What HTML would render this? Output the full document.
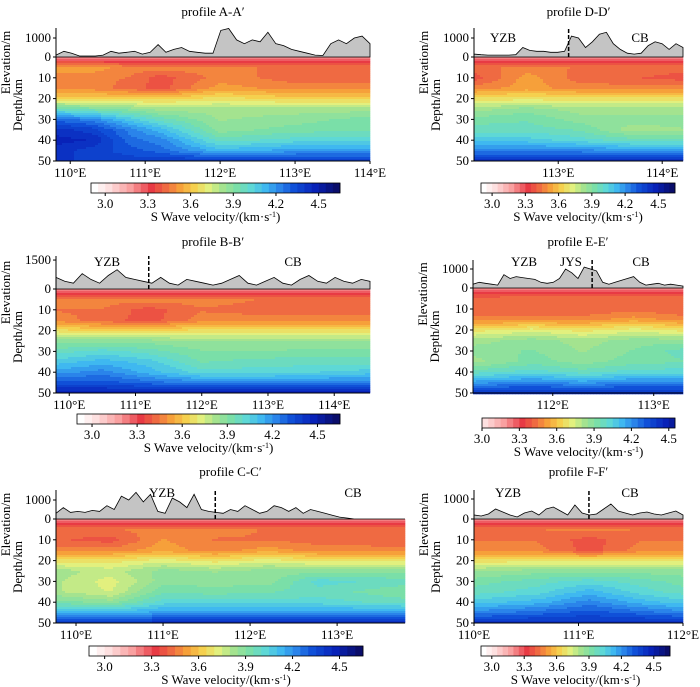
<!DOCTYPE html>
<html><head><meta charset="utf-8"><style>
html,body{margin:0;padding:0;background:#fff}
svg{display:block;font-family:"Liberation Serif",serif}
</style></head><body>
<svg id="fig" width="700" height="687" viewBox="0 0 700 687"></svg>
<script>
// ---- data ----
const depths = [0,2,5,10,15,20,25,30,35,40,45,50];
const aLons = [109.8,110.3,110.8,111.2,112,113,114];
const aVel = [
 [3.15,3.3,3.5,3.45,3.45,3.6,3.95,4.25,4.4,4.45,4.4,4.4],
 [3.15,3.3,3.5,3.45,3.45,3.6,3.9,4.2,4.35,4.42,4.35,4.35],
 [3.15,3.3,3.45,3.42,3.4,3.6,3.85,4.05,4.2,4.25,4.3,4.35],
 [3.15,3.3,3.45,3.35,3.35,3.6,3.8,3.95,4.1,4.2,4.25,4.38],
 [3.15,3.3,3.45,3.45,3.5,3.65,3.8,3.82,3.85,3.95,4.1,4.38],
 [3.15,3.3,3.4,3.4,3.45,3.6,3.8,3.85,3.9,4.0,4.15,4.38],
 [3.15,3.3,3.4,3.4,3.45,3.6,3.8,3.9,3.92,4.0,4.15,4.38]];
const aElev = [100,300,200,50,50,50,100,300,200,250,300,150,250,650,250,400,500,300,250,200,200,1400,1500,900,700,900,800,1300,700,600,400,300,200,100,80,700,900,700,1000,1100,700];
const dLons = [112.2,112.7,113.2,113.7,114.2];
const dVel = [
 [3.15,3.3,3.4,3.35,3.45,3.65,3.8,3.9,3.95,4.05,4.2,4.4],
 [3.15,3.3,3.45,3.5,3.5,3.65,3.85,3.92,3.95,4.05,4.2,4.4],
 [3.15,3.3,3.42,3.4,3.45,3.65,3.8,3.85,3.92,4.0,4.2,4.4],
 [3.15,3.3,3.42,3.38,3.45,3.65,3.8,3.85,3.8,3.95,4.15,4.4],
 [3.15,3.3,3.4,3.35,3.45,3.65,3.8,3.85,3.82,3.95,4.15,4.4]];
const dElev = [150,120,100,100,100,100,120,500,350,300,300,250,250,300,1100,1000,500,800,1200,1300,700,400,200,150,200,600,800,700,400,700,500];
const bLons = [109.8,110.5,111.2,112,113,114.5];
const bVel = [
 [3.15,3.3,3.45,3.42,3.45,3.65,3.85,3.95,4.05,4.15,4.3,4.45],
 [3.15,3.3,3.45,3.42,3.4,3.6,3.85,4.0,4.1,4.2,4.3,4.45],
 [3.15,3.3,3.45,3.35,3.35,3.6,3.85,3.95,4.05,4.1,4.25,4.45],
 [3.15,3.3,3.45,3.42,3.45,3.65,3.82,3.88,3.92,4.0,4.2,4.45],
 [3.15,3.3,3.42,3.4,3.45,3.65,3.82,3.88,3.95,4.0,4.2,4.45],
 [3.15,3.3,3.42,3.4,3.45,3.65,3.82,3.9,3.95,4.05,4.2,4.45]];
const bElev = [600,400,300,800,500,300,700,1000,600,500,400,300,600,300,200,500,400,300,200,300,500,700,300,200,400,600,300,200,500,700,400,300,600,400,300,500,400];
const eLons = [111.2,111.8,112.3,112.8,113.3];
const eVel = [
 [3.15,3.3,3.38,3.38,3.45,3.65,3.8,3.85,3.8,3.95,4.15,4.4],
 [3.15,3.3,3.42,3.38,3.45,3.7,3.85,3.88,3.9,4.0,4.2,4.4],
 [3.15,3.3,3.4,3.38,3.45,3.65,3.8,3.82,3.85,3.95,4.15,4.4],
 [3.15,3.3,3.42,3.4,3.5,3.7,3.85,3.88,3.9,4.0,4.2,4.4],
 [3.15,3.3,3.4,3.38,3.45,3.65,3.85,3.95,3.92,4.0,4.2,4.4]];
const eElev = [200,300,250,200,150,700,500,600,550,500,450,300,250,300,500,1000,800,500,1100,1000,900,300,200,300,400,500,600,300,150,200,250,150,200,150,100];
const cLons = [109.8,110.4,111.0,111.6,112.2,112.8,113.8];
const cVel = [
 [3.15,3.3,3.42,3.38,3.45,3.65,3.8,3.78,3.78,3.9,4.1,4.4],
 [3.15,3.3,3.42,3.35,3.45,3.65,3.75,3.7,3.72,3.85,4.1,4.4],
 [3.15,3.3,3.45,3.48,3.5,3.7,3.85,3.85,3.92,4.0,4.15,4.4],
 [3.15,3.3,3.45,3.42,3.45,3.65,3.82,3.85,3.9,4.0,4.15,4.4],
 [3.15,3.3,3.42,3.42,3.5,3.7,3.85,3.85,3.92,4.0,4.15,4.4],
 [3.15,3.3,3.42,3.4,3.45,3.65,3.85,4.0,3.95,4.0,4.15,4.4],
 [3.15,3.3,3.42,3.38,3.45,3.65,3.85,3.95,3.88,3.95,4.15,4.4]];
const cElev = [300,600,350,400,350,450,400,700,500,1200,1000,1400,900,1300,400,300,1100,900,600,1300,500,400,350,300,500,400,700,500,300,400,700,600,400,600,300,500,400,300,200,100,50,0,0,0,0,0,0,0,0];
const fLons = [110.0,110.6,111.1,111.6,112.0];
const fVel = [
 [3.15,3.3,3.42,3.42,3.45,3.65,3.82,3.9,3.95,4.05,4.2,4.4],
 [3.15,3.3,3.42,3.42,3.45,3.65,3.85,3.95,4.0,4.1,4.25,4.4],
 [3.15,3.3,3.45,3.35,3.35,3.65,3.85,4.0,4.1,4.2,4.3,4.4],
 [3.15,3.3,3.42,3.42,3.45,3.65,3.85,3.95,4.0,4.1,4.25,4.4],
 [3.15,3.3,3.42,3.42,3.45,3.65,3.85,3.9,3.95,4.05,4.2,4.4]];
const fElev = [200,150,250,500,350,200,100,300,400,200,500,600,400,200,700,300,200,250,500,750,400,300,200,300,350,250,200,300,400,200];
const cbTicks = [3.0,3.3,3.6,3.9,4.2,4.5];
const depthTicks = [0,10,20,30,40,50];

// ---- colormap ----
const stops=[[2.9,[255,255,255]],[3.0,[253,224,224]],[3.15,[249,160,160]],[3.3,[232,58,68]],[3.4,[239,106,66]],[3.5,[246,160,58]],[3.6,[245,208,78]],[3.7,[226,240,126]],[3.8,[164,227,143]],[3.9,[122,223,168]],[4.0,[94,216,214]],[4.1,[63,184,240]],[4.2,[42,132,234]],[4.3,[16,80,216]],[4.45,[8,34,184]],[4.62,[10,10,96]]];
function cmap(v){
  v=Math.round(v/0.05)*0.05;
  if(v<=stops[0][0])return 'rgb(255,255,255)';
  for(let i=1;i<stops.length;i++){if(v<=stops[i][0]){const a=stops[i-1],b=stops[i],t=(v-a[0])/(b[0]-a[0]);
    return 'rgb('+[0,1,2].map(k=>Math.round(a[1][k]+(b[1][k]-a[1][k])*t)).join(',')+')';}}
  return 'rgb(10,10,96)';
}
const NS='http://www.w3.org/2000/svg';
const svg=document.getElementById('fig');
function el(tag,attrs,parent,text){const e=document.createElementNS(NS,tag);for(const k in attrs)e.setAttribute(k,attrs[k]);if(text!=null)e.textContent=text;(parent||svg).appendChild(e);return e;}
function interp(xs,ys,x){if(x<=xs[0])return ys[0];for(let i=1;i<xs.length;i++){if(x<=xs[i]){const t=(x-xs[i-1])/(xs[i]-xs[i-1]);return ys[i-1]+(ys[i]-ys[i-1])*t;}}return ys[ys.length-1];}

function panel(p){
  const g=el('g',{});
  
  
  const xs=lon=>p.x0+(lon-p.lon0)*(p.x1-p.x0)/(p.lon1-p.lon0);
  const ys=d=>p.y0+d*(p.y1-p.y0)/50;
  const ye=m=>p.y0-m*p.ePx/1000;
  const t=el('text',{x:(p.x0+p.x1)/2,y:p.ty,'text-anchor':'middle','font-size':13},g,p.title);
  
  const field=el('g',{},g);
  
  const cw=3,ch=2;
  for(let x=p.x0;x<p.x1;x+=cw){
    const lon=p.lon0+(x+cw/2-p.x0)*(p.lon1-p.lon0)/(p.x1-p.x0);
    const prof=depths.map((d,j)=>interp(p.lons,p.vel.map(c=>c[j]),lon));
    for(let y=p.y0;y<p.y1;y+=ch){
      const d=(y+ch/2-p.y0)*50/(p.y1-p.y0);
      el('rect',{x:x,y:y,width:Math.min(cw,p.x1-x)+0.3,height:ch+0.3,fill:cmap(interp(depths,prof,d))},field);
    }
  }
  const n=p.elev.length;
  let pts=p.x0+','+p.y0+' ';
  p.elev.forEach((m,i)=>{pts+=(p.x0+i*(p.x1-p.x0)/(n-1)).toFixed(1)+','+ye(m).toFixed(1)+' ';});
  pts+=p.x1+','+p.y0;
  const poly=el('polygon',{points:pts,fill:'#c4c4c4',stroke:'#000','stroke-width':0.8},g);
  
  el('line',{x1:p.x0,y1:p.eTop,x2:p.x0,y2:p.y1,stroke:'#000','stroke-width':1},g);
  el('line',{x1:p.x0,y1:p.y1,x2:p.x1,y2:p.y1,stroke:'#000','stroke-width':1},g);
  p.eTicks.forEach(m=>{el('line',{x1:p.x0-3,y1:ye(m),x2:p.x0,y2:ye(m),stroke:'#000'},g);
    const tt=el('text',{x:p.x0-5,y:ye(m)+4,'text-anchor':'end','font-size':13},g,m);});
  depthTicks.forEach(d=>{if(d===0)return;el('line',{x1:p.x0-3,y1:ys(d),x2:p.x0,y2:ys(d),stroke:'#000'},g);
    const tt=el('text',{x:p.x0-5,y:ys(d)+4,'text-anchor':'end','font-size':13},g,d);});
  p.xTicks.forEach(l=>{const x=xs(l);el('line',{x1:x,y1:p.y1,x2:x,y2:p.y1+3,stroke:'#000'},g);
    const tt=el('text',{x:x,y:p.y1+16,'text-anchor':'middle','font-size':13},g,l+'°E');});
  const lx=p.x0-46, ly=(p.eTop+p.y0)/2+20;
  const l1=el('text',{x:lx,y:ly,'text-anchor':'middle','font-size':13,transform:'rotate(-90 '+lx+' '+ly+')'},g,'Elevation/m');
  
  const lx2=p.x0-34, ly2=(p.y0+p.y1)/2-4;
  const l2=el('text',{x:lx2,y:ly2,'text-anchor':'middle','font-size':13,transform:'rotate(-90 '+lx2+' '+ly2+')'},g,'Depth/km');
  
  (p.labels||[]).forEach(L=>{const tt=el('text',{x:L[1],y:L[2],'text-anchor':'middle','font-size':13},g,L[0]);});
  if(p.dash){const x=xs(p.dash);const dl=el('line',{x1:x,y1:p.y0,x2:x,y2:p.eTop,stroke:'#000','stroke-width':1.5,'stroke-dasharray':'4,2'},g);}
  const cb=el('g',{},g);
  const cv=v=>p.cbx0+(v-p.cv0)*(p.cbx1-p.cbx0)/(p.cv1-p.cv0);
  for(let v=p.cv0;v<p.cv1-1e-6;v+=0.05){el('rect',{x:cv(v),y:p.cby,width:cv(v+0.05)-cv(v)+0.3,height:10,fill:cmap(v+0.025)},cb);}
  el('rect',{x:p.cbx0,y:p.cby,width:p.cbx1-p.cbx0,height:10,fill:'none',stroke:'#000','stroke-width':0.8},cb);
  cbTicks.forEach(v=>{el('line',{x1:cv(v),y1:p.cby+10,x2:cv(v),y2:p.cby+13,stroke:'#000'},cb);
    const tt=el('text',{x:cv(v),y:p.cby+25,'text-anchor':'middle','font-size':13},cb,v.toFixed(1));});
  const ct=el('text',{x:(p.cbx0+p.cbx1)/2,y:p.cby+38,'text-anchor':'middle','font-size':13},cb,'S Wave velocity/(km·s');
  el('tspan',{'font-size':8,dy:-4},ct,'-1');el('tspan',{dy:4},ct,')');
  
}
panel({name:'panel-a',title:'profile A-A′',ty:16,x0:56,x1:370,lon0:109.81,lon1:114,y0:57,y1:161,eTop:28,ePx:19,eTicks:[0,1000],xTicks:[110,111,112,113,114],lons:aLons,vel:aVel,elev:aElev,cbx0:91,cbx1:340,cv0:2.9,cv1:4.65,cby:183});
panel({name:'panel-d',title:'profile D-D′',ty:16,x0:474,x1:683,lon0:112.19,lon1:114.2,y0:57,y1:161,eTop:28,ePx:19,eTicks:[0,1000],xTicks:[113,114],lons:dLons,vel:dVel,elev:dElev,labels:[['YZB',503,42],['CB',640,42]],dash:113.1,cbx0:481,cbx1:675,cv0:2.9,cv1:4.65,cby:183});
panel({name:'panel-b',title:'profile B-B′',ty:246,x0:56,x1:370,lon0:109.8,lon1:114.54,y0:289,y1:393,eTop:256,ePx:19.3,eTicks:[0,1500],xTicks:[110,111,112,113,114],lons:bLons,vel:bVel,elev:bElev,labels:[['YZB',107,266],['CB',293,266]],dash:111.2,cbx0:77,cbx1:340,cv0:2.9,cv1:4.65,cby:414});
panel({name:'panel-e',title:'profile E-E′',ty:246,x0:473,x1:683,lon0:111.21,lon1:113.29,y0:288,y1:393,eTop:260,ePx:19,eTicks:[0,1000],xTicks:[112,113],lons:eLons,vel:eVel,elev:eElev,labels:[['YZB',524,266],['JYS',571,266],['CB',641,266]],dash:112.39,cbx0:482,cbx1:675,cv0:3.0,cv1:4.55,cby:418});
panel({name:'panel-c',title:'profile C-C′',ty:476,x0:56,x1:405,lon0:109.77,lon1:113.78,y0:519,y1:623,eTop:490,ePx:19,eTicks:[0,1000],xTicks:[110,111,112,113],lons:cLons,vel:cVel,elev:cElev,labels:[['YZB',162,497],['CB',353,497]],dash:111.6,cbx0:89,cbx1:363,cv0:2.9,cv1:4.65,cby:646});
panel({name:'panel-f',title:'profile F-F′',ty:476,x0:474,x1:683,lon0:110,lon1:112,y0:519,y1:623,eTop:490,ePx:20,eTicks:[0,1000],xTicks:[110,111,112],lons:fLons,vel:fVel,elev:fElev,labels:[['YZB',508,497],['CB',630,497]],dash:111.1,cbx0:481,cbx1:670,cv0:2.9,cv1:4.65,cby:646});
</script>
</body></html>
